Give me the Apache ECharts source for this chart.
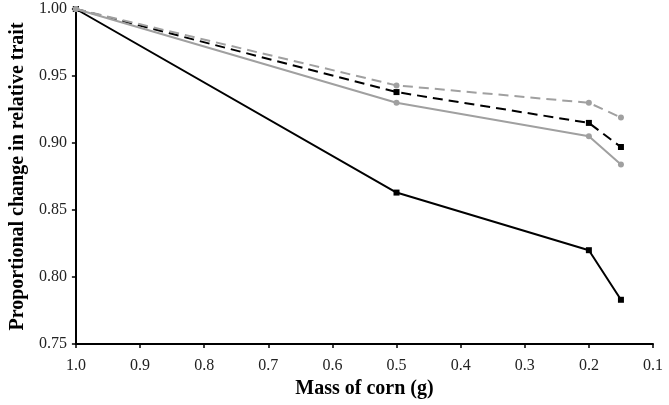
<!DOCTYPE html>
<html><head><meta charset="utf-8">
<script src="https://cdn.jsdelivr.net/npm/echarts@6/dist/echarts.min.js"></script>
<style>html,body{margin:0;padding:0;background:#fff}#c{width:669px;height:405px}</style>
</head><body><div id="c"></div>
<script>
const massX = [1.0, 0.5, 0.2, 0.15];
const blackSolid = [1.0, 0.863, 0.820, 0.783];
const blackDashed = [1.0, 0.938, 0.915, 0.897];
const grayDashed = [1.0, 0.943, 0.930, 0.919];
const graySolid = [1.0, 0.930, 0.905, 0.884];
const xAxisTitle = 'Mass of corn (g)';
const yAxisTitle = 'Proportional change in relative trait';

const pair = v => massX.map((x, i) => [x, v[i]]);
const font = 'Liberation Serif, Times New Roman, serif';
function mk(data, color, type, symbol, z) {
  return { type: 'line', data: pair(data), symbol: symbol, symbolSize: 6,
    z: z, itemStyle: { color: color }, lineStyle: { color: color, width: 2, type: type === 'dashed' ? [10, 6] : 'solid' },
    animation: false };
}
const chart = echarts.init(document.getElementById('c'), null, { renderer: 'canvas' });
chart.setOption({
  backgroundColor: '#fff',
  grid: { left: 73, right: 16, top: 9, bottom: 61, containLabel: false },
  xAxis: { type: 'value', inverse: true, min: 0.1, max: 1.0, interval: 0.1,
    name: xAxisTitle, nameLocation: 'middle', nameGap: 34,
    nameTextStyle: { fontFamily: font, fontWeight: 'bold', fontSize: 20, color: '#000' },
    axisLine: { lineStyle: { color: '#000', width: 2 } },
    axisTick: { show: true, length: 4, lineStyle: { color: '#000', width: 1.5 } },
    axisLabel: { fontFamily: font, fontSize: 16, color: '#222', margin: 14, formatter: v => v.toFixed(1) },
    splitLine: { show: false } },
  yAxis: { type: 'value', min: 0.75, max: 1.0, interval: 0.05,
    name: yAxisTitle, nameLocation: 'middle', nameGap: 46,
    nameTextStyle: { fontFamily: font, fontWeight: 'bold', fontSize: 20, color: '#000' },
    axisLine: { show: true, lineStyle: { color: '#000', width: 2 } },
    axisTick: { show: true, length: 4, lineStyle: { color: '#000', width: 1.5 } },
    axisLabel: { fontFamily: font, fontSize: 16, color: '#222', margin: 9, formatter: v => v.toFixed(2) },
    splitLine: { show: false } },
  series: [
    mk(blackSolid, '#000', 'solid', 'rect', 3),
    mk(blackDashed, '#000', 'dashed', 'rect', 4),
    mk(graySolid, '#a0a0a0', 'solid', 'circle', 5),
    mk(grayDashed, '#a0a0a0', 'dashed', 'circle', 6)
  ]
});
</script></body></html>
